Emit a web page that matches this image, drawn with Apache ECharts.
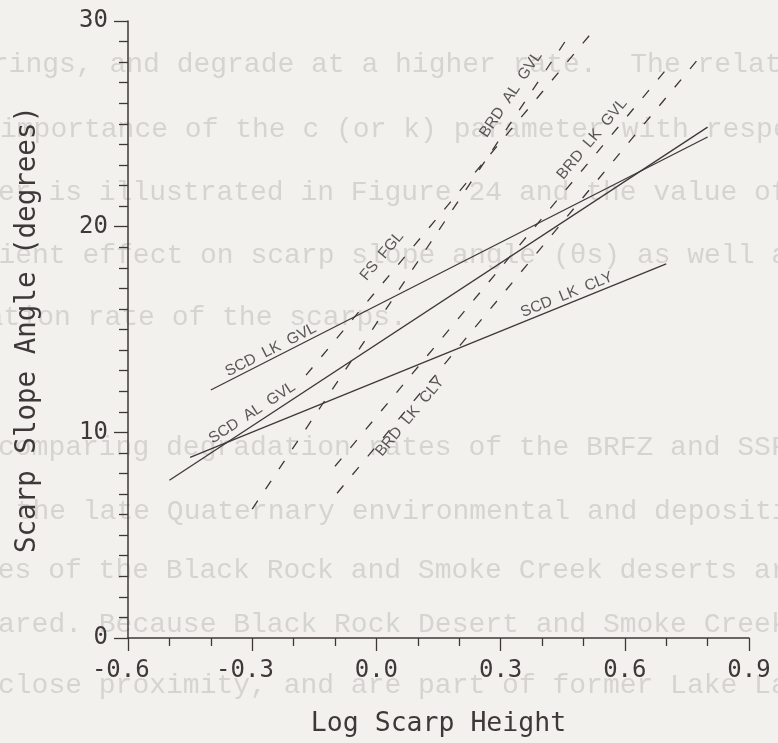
<!DOCTYPE html>
<html><head><meta charset="utf-8">
<script src="https://cdn.jsdelivr.net/npm/echarts@6/dist/echarts.min.js"></script>
<style>html,body{margin:0;padding:0;background:#f2f1ee}#c{width:778px;height:743px}</style>
</head><body><div id="c"></div><script>
// ---- data ----
const xTicks = [-0.6, -0.3, 0.0, 0.3, 0.6, 0.9];
const yTicks = [0, 10, 20, 30];
const lineNames = ['SCD LK GVL', 'SCD AL GVL', 'SCD LK CLY', 'FS FGL', 'BRD AL GVL', 'BRD LK GVL', 'BRD LK CLY'];
const scdLkGvl = [[-0.40, 12.06], [0.80, 24.36]];
const scdAlGvl = [[-0.50, 7.67], [0.80, 24.84]];
const scdLkCly = [[-0.45, 8.78], [0.70, 18.19]];
const fsFgl = [[-0.17, 12.78], [0.52, 29.43]];
const brdAlGvl = [[-0.30, 6.27], [0.47, 29.43]];
const brdLkGvl = [[-0.10, 8.35], [0.70, 27.64]];
const brdLkCly = [[-0.095, 7.04], [0.79, 28.46]];
const lineData = [scdLkGvl, scdAlGvl, scdLkCly, fsFgl, brdAlGvl, brdLkGvl, brdLkCly];
const lineDashed = [false, false, false, true, true, true, true];
// label anchor points (data coordinates)
const labelX = [-0.255, -0.30, 0.46, 0.0135, 0.325, 0.521, 0.081];
const labelY = [14.0, 10.95, 16.69, 18.57, 26.43, 24.26, 10.76];
// faded page text behind the figure
const pageText = [
  'prings, and degrade at a higher rate.  The relative',
  'importance of the c (or k) parameter with respect',
  'er is illustrated in Figure 24 and the value of the',
  'ficient effect on scarp slope angle (\u03b8s) as well as',
  'dation rate of the scarps.',
  'comparing degradation rates of the BRFZ and SSFZ',
  ', the late Quaternary environmental and depositional',
  'ies of the Black Rock and Smoke Creek deserts are',
  'ared. Because Black Rock Desert and Smoke Creek D',
  'close proximity, and are part of former Lake Lahontan'
];

const ink = '#3f3838';
const chart = echarts.init(document.getElementById('c'), null, {renderer: 'canvas'});

const pageX = [-25, 0, -2, -52, -30, -2, -18, -19, -2, -2];
const pageY = [67, 132, 195, 258, 320, 450, 514, 573, 627, 688];
const graphics = pageText.map((t, i) => ({
  type: 'text', left: pageX[i], top: pageY[i] - 16, z: -10, silent: true,
  style: {text: t, fill: '#d6d4d0', font: '28px "Liberation Mono", monospace',
    shadowBlur: 3, shadowColor: '#d6d4d0'}
}));

const lineSeries = lineData.map((d, i) => ({
  type: 'line', name: lineNames[i], data: d, showSymbol: false, symbol: 'none',
  silent: true, z: 3,
  lineStyle: {color: ink, width: 1.3, type: lineDashed[i] ? [10, 14] : 'solid'}
}));

function xFmt(v) {
  if (Math.abs(v) < 1e-9) return '0.0';
  const s = v.toFixed(1);
  return v < 0 ? s + '\u00a0' : s;
}

const labelStyle = {show: true, position: 'inside', fontFamily: 'Liberation Sans', fontSize: 15.5, color: '#353030',
  formatter: p => lineNames[p.dataIndex].replace(/ /g, '  ')};

const option = {
  backgroundColor: '#f2f1ee',
  animation: false,
  graphic: graphics,
  grid: {left: 128, right: 29, top: 21, bottom: 100, containLabel: false},
  xAxis: {
    type: 'value', min: xTicks[0], max: xTicks[xTicks.length - 1],
    interval: Math.round((xTicks[1] - xTicks[0]) * 10) / 10,
    name: 'Log Scarp Height', nameLocation: 'middle', nameGap: 73,
    nameTextStyle: {fontFamily: 'DejaVu Sans Mono', fontSize: 26.5, color: ink},
    axisLine: {show: true, onZero: false, lineStyle: {color: ink, width: 1.5}},
    axisTick: {show: true, length: 13, lineStyle: {color: ink, width: 1.3}},
    minorTick: {show: true, splitNumber: 3, length: 8, lineStyle: {color: ink, width: 1.3}},
    splitLine: {show: false}, minorSplitLine: {show: false},
    axisLabel: {formatter: xFmt, fontFamily: 'DejaVu Sans Mono', fontSize: 24, color: ink, margin: 21}
  },
  yAxis: {
    type: 'value', min: yTicks[0], max: yTicks[yTicks.length - 1], interval: yTicks[1] - yTicks[0],
    name: 'Scarp Slope Angle (degrees)', nameLocation: 'middle', nameGap: 86, nameRotate: 90,
    nameTextStyle: {fontFamily: 'DejaVu Sans Mono', fontSize: 27.5, color: ink},
    axisLine: {show: true, onZero: false, lineStyle: {color: ink, width: 1.5}},
    axisTick: {show: true, length: 14, lineStyle: {color: ink, width: 1.3}},
    minorTick: {show: true, splitNumber: 10, length: 9, lineStyle: {color: ink, width: 1.3}},
    splitLine: {show: false}, minorSplitLine: {show: false},
    axisLabel: {fontFamily: 'DejaVu Sans Mono', fontSize: 24, color: ink, margin: 20}
  },
  series: lineSeries.concat([{
    type: 'scatter', name: 'labels', symbolSize: 1, silent: true, z: 4,
    itemStyle: {color: 'rgba(0,0,0,0)'},
    data: lineNames.map((n, i) => ({value: [labelX[i], labelY[i]]})),
    label: labelStyle
  }])
};
chart.setOption(option);

// rotate each label along its line, using the chart's own scales
const rotated = lineNames.map((n, i) => {
  const p0 = chart.convertToPixel({gridIndex: 0}, lineData[i][0]);
  const p1 = chart.convertToPixel({gridIndex: 0}, lineData[i][1]);
  const ang = Math.atan2(p0[1] - p1[1], p1[0] - p0[0]) * 180 / Math.PI;
  return {value: [labelX[i], labelY[i]], label: {rotate: ang}};
});
chart.setOption({series: lineSeries.concat([{name: 'labels', type: 'scatter', data: rotated, label: labelStyle}])});
</script></body></html>
